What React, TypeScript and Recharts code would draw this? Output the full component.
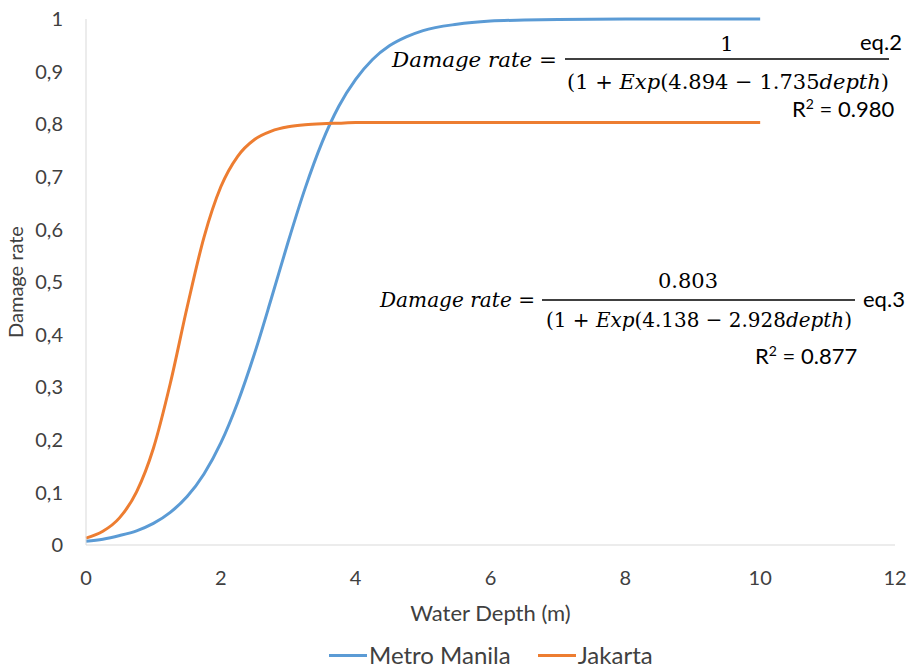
import React from 'react';
import { LineChart, Line, XAxis, YAxis, Legend } from 'recharts';

// depth (m) read along the x axis
const depths = [
    0, 0.25, 0.5, 0.75, 1, 1.25, 1.5, 1.75, 2, 2.25, 2.5, 2.75, 3, 3.25, 3.5, 3.75,
    4, 4.25, 4.5, 4.75, 5, 5.5, 6, 6.5, 7, 8, 9, 10,
];
const metroManila = [
    0.007, 0.011, 0.018, 0.027, 0.041, 0.062, 0.092, 0.135, 0.194, 0.271, 0.364, 0.469, 0.577, 0.678, 0.765, 0.834,
    0.885, 0.923, 0.949, 0.966, 0.978, 0.99, 0.996, 0.998, 0.999, 1, 1, 1,
];
const jakarta = [
    0.013, 0.026, 0.052, 0.101, 0.184, 0.307, 0.452, 0.585, 0.681, 0.739, 0.771, 0.787, 0.795, 0.799, 0.801, 0.802,
    0.803, 0.803, 0.803, 0.803, 0.803, 0.803, 0.803, 0.803, 0.803, 0.803, 0.803, 0.803,
];
const xTicks = [0, 2, 4, 6, 8, 10, 12];
const yTicks = [0, 0.1, 0.2, 0.3, 0.4, 0.5, 0.6, 0.7, 0.8, 0.9, 1];

const seriesNames = ['Metro Manila', 'Jakarta'];
const seriesColors = ['#5b9bd5', '#ed7d31'];

const chartData = depths.map((d, i) => ({
    depth: d,
    manila: metroManila[i],
    jakarta: jakarta[i],
}));

const sans = 'Lato, "Open Sans", sans-serif';
const serif = '"DejaVu Serif", "Liberation Serif", serif';

const LegendBox = () => (
    <div style={{ display: 'flex', alignItems: 'center', fontFamily: sans, fontSize: 24, color: '#404040', lineHeight: '28px' }}>
        {seriesNames.map((name, i) => (
            <div key={name} style={{ display: 'flex', alignItems: 'center', marginRight: 27 }}>
                <span style={{ display: 'inline-block', width: 38, height: 3, background: seriesColors[i], marginRight: 2 }} />
                <span>{name}</span>
            </div>
        ))}
    </div>
);

// the two fitted equations written on the plot
const Equations = () => (
    <svg width={921} height={671} style={{ position: 'absolute', left: 0, top: 0, pointerEvents: 'none' }}>
        <g fill="#000" fontFamily={serif} fontSize={21}>
            <text x={392} y={67} textLength={165} lengthAdjust="spacingAndGlyphs">
                <tspan fontStyle="italic">Damage rate</tspan> =
            </text>
            <line x1={565} x2={889} y1={59} y2={59} stroke="#000" strokeWidth={1.3} />
            <text x={727} y={51} textAnchor="middle">1</text>
            <text x={567} y={89} textLength={322} lengthAdjust="spacingAndGlyphs">
                (1 + <tspan fontStyle="italic">Exp</tspan>(4.894 − 1.735<tspan fontStyle="italic">depth</tspan>)
            </text>

            <text x={380} y={307} textLength={155} lengthAdjust="spacingAndGlyphs">
                <tspan fontStyle="italic">Damage rate</tspan> =
            </text>
            <line x1={542} x2={855} y1={300} y2={300} stroke="#000" strokeWidth={1.3} />
            <text x={688} y={288} textAnchor="middle">0.803</text>
            <text x={546} y={327} textLength={306} lengthAdjust="spacingAndGlyphs">
                (1 + <tspan fontStyle="italic">Exp</tspan>(4.138 − 2.928<tspan fontStyle="italic">depth</tspan>)
            </text>
        </g>
        <g fill="#000" fontFamily={sans} fontSize={22}>
            <text x={860} y={50}>eq.2</text>
            <text x={792} y={117}>
                R<tspan fontSize={14} dy={-8}>2</tspan><tspan dy={8}> = 0.980</tspan>
            </text>
            <text x={863} y={307}>eq.3</text>
            <text x={755} y={364}>
                R<tspan fontSize={14} dy={-8}>2</tspan><tspan dy={8}> = 0.877</tspan>
            </text>
        </g>
    </svg>
);

const App: React.FC = () => {
    return (
        <div style={{ position: 'relative', width: 921, height: 671, fontFamily: sans, background: '#fff', overflow: 'hidden' }}>
            <style>{'body{margin:0}'}</style>
            <LineChart width={921} height={671} data={chartData} margin={{ top: 19, right: 26, left: 0, bottom: 0 }}>
                <XAxis
                    dataKey="depth"
                    type="number"
                    domain={[0, 12]}
                    ticks={xTicks}
                    height={86}
                    tickLine={false}
                    tickMargin={20}
                    stroke="#d9d9d9"
                    tick={{ fill: '#404040', fontSize: 20 }}
                    label={{ value: 'Water Depth (m)', position: 'insideBottom', offset: 10, fill: '#404040', fontSize: 22 }}
                />
                <YAxis
                    type="number"
                    domain={[0, 1]}
                    ticks={yTicks}
                    width={86}
                    tickLine={false}
                    tickMargin={17}
                    stroke="#d9d9d9"
                    tick={{ fill: '#404040', fontSize: 20 }}
                    tickFormatter={(v: number) => String(v).replace('.', ',')}
                    label={{
                        value: 'Damage rate',
                        angle: -90,
                        position: 'insideLeft',
                        offset: 16,
                        fill: '#404040',
                        fontSize: 20,
                        style: { textAnchor: 'middle' },
                    }}
                />
                <Legend
                    verticalAlign="bottom"
                    height={40}
                    content={() => <LegendBox />}
                    wrapperStyle={{ left: 329, top: 641, bottom: 'auto', width: 'auto' }}
                />
                <Line type="monotone" dataKey="manila" name={seriesNames[0]} stroke={seriesColors[0]} strokeWidth={3} dot={false} isAnimationActive={false} />
                <Line type="monotone" dataKey="jakarta" name={seriesNames[1]} stroke={seriesColors[1]} strokeWidth={3} dot={false} isAnimationActive={false} />
            </LineChart>
            <Equations />
        </div>
    );
};

export default App;
